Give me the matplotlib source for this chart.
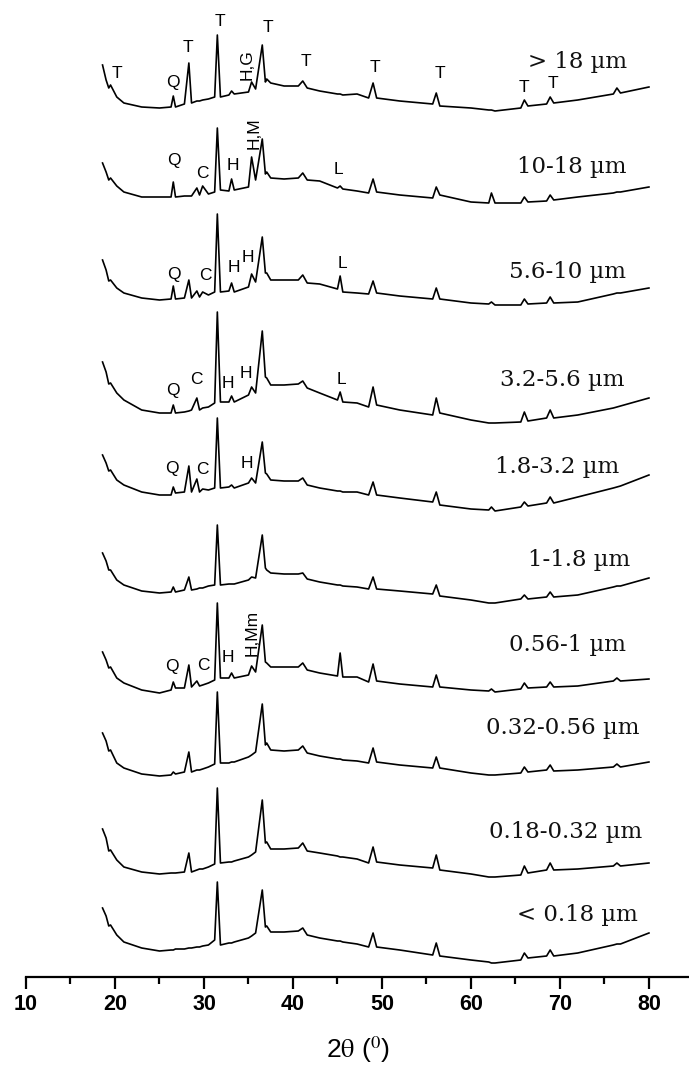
import matplotlib
matplotlib.use("Agg")
import matplotlib.pyplot as plt
from matplotlib.ticker import MultipleLocator

# 2theta sampling points (deg)
two_theta = [18.6, 19.0, 19.3, 19.5, 20.2, 21.0, 23.0, 25.0, 26.3, 26.55,
             26.8, 27.8, 28.3, 28.6, 29.2, 29.5, 29.85, 30.5, 31.2, 31.5,
             31.85, 32.8, 33.1, 33.4, 35.0, 35.35, 35.8, 36.55, 36.9, 37.05,
             37.5, 39.0, 40.6, 41.1, 41.6, 43.0, 45.0, 45.3, 45.6, 47.2,
             48.5, 49.0, 49.4, 52.0, 55.7, 56.1, 56.5, 60.0, 62.0, 62.3,
             62.7, 65.6, 66.0, 66.4, 68.5, 68.9, 69.3, 72.0, 76.0, 76.4,
             76.8, 80.0]

# intensity (a.u.) of each size fraction, relative to its own baseline
i_gt18 = [43, 28, 20, 23, 11, 5, 1, 0, 1, 12, 1, 4, 45, 5, 7, 7, 8, 9, 11, 73,
          11, 13, 17, 14, 16, 26, 19, 63, 26, 29, 25, 22, 22, 27, 20, 17, 14, 14, 13, 14,
          10, 25, 10, 7, 4, 15, 2, 0, -2, -2, -3, 0, 8, 2, 4, 11, 5, 8, 14, 20,
          15, 21]
i_10_18 = [34, 25, 17, 19, 11, 5, 0, 0, 0, 15, 0, 1, 1, 1, 9, 2, 11, 3, 5, 69,
           7, 6, 18, 7, 10, 40, 17, 58, 23, 25, 19, 18, 19, 24, 17, 16, 9, 11, 8, 6,
           4, 18, 5, 2, -1, 10, 2, -5, -6, 4, -6, -6, 0, -5, -4, 2, -3, 0, 4, 5,
           5, 10]
i_56_10 = [40, 30, 19, 20, 12, 7, 2, 0, 1, 14, 1, 2, 20, 2, 9, 3, 8, 5, 8, 86,
           8, 9, 17, 8, 13, 26, 18, 63, 27, 27, 20, 20, 20, 25, 17, 16, 11, 24, 8, 7,
           6, 19, 7, 4, 1, 12, 1, -3, -4, -2, -5, -5, 1, -4, -3, 3, -3, -2, 6, 7,
           7, 12]
i_32_56 = [51, 41, 29, 30, 20, 13, 3, 0, 0, 8, 0, 1, 2, 3, 15, 3, 5, 6, 10, 101,
           11, 11, 17, 11, 18, 26, 20, 82, 36, 35, 28, 28, 29, 32, 25, 20, 13, 21, 11, 10,
           6, 26, 8, 3, -2, 15, 0, -7, -10, -10, -10, -9, 1, -8, -5, 3, -5, -2, 5, 6,
           7, 15]
i_18_32 = [40, 32, 24, 25, 15, 10, 3, 0, 0, 8, 2, 3, 29, 3, 16, 3, 6, 5, 7, 77,
           7, 8, 10, 7, 12, 17, 12, 53, 22, 21, 15, 14, 14, 17, 10, 7, 4, 4, 3, 3,
           0, 13, 0, -3, -7, 3, -10, -14, -15, -12, -16, -12, -7, -11, -8, -2, -8, -2, 7, 8,
           9, 20]
i_1_18 = [40, 32, 23, 23, 13, 8, 2, 0, 1, 6, 1, 3, 16, 3, 4, 5, 5, 7, 8, 68,
          8, 9, 9, 9, 13, 16, 15, 58, 25, 23, 20, 19, 19, 20, 14, 11, 8, 8, 7, 6,
          4, 16, 4, 2, -1, 8, -3, -7, -10, -10, -10, -6, -2, -6, -4, 1, -4, -2, 6, 7,
          7, 15]
i_056_1 = [41, 33, 25, 26, 15, 10, 3, 0, 3, 11, 5, 5, 28, 6, 12, 7, 8, 10, 13, 90,
           15, 15, 20, 15, 18, 27, 21, 68, 31, 30, 26, 26, 26, 30, 23, 20, 17, 40, 16, 16,
           11, 29, 12, 9, 6, 18, 6, 3, 2, 4, 1, 4, 10, 5, 6, 11, 6, 7, 12, 15,
           12, 14]
i_032_056 = [43, 35, 25, 26, 13, 8, 2, 0, 1, 4, 2, 4, 24, 4, 6, 6, 7, 9, 12, 84,
             13, 13, 14, 14, 19, 21, 24, 72, 31, 33, 26, 25, 26, 30, 23, 20, 17, 17, 16, 15,
             13, 28, 14, 11, 8, 19, 8, 3, 1, 1, 1, 3, 9, 4, 6, 11, 5, 6, 9, 12,
             9, 14]
i_018_032 = [45, 36, 23, 24, 14, 7, 2, 0, 1, 1, 1, 2, 21, 2, 4, 5, 5, 7, 10, 86,
             11, 12, 12, 13, 17, 19, 22, 74, 31, 32, 25, 25, 26, 31, 23, 21, 18, 17, 17, 15,
             11, 27, 12, 9, 6, 19, 4, 0, -3, -3, -3, -1, 8, 1, 4, 11, 4, 5, 8, 11,
             8, 11]
i_lt018 = [43, 35, 25, 26, 16, 9, 3, 0, 1, 1, 2, 2, 3, 3, 4, 4, 5, 6, 11, 69,
           6, 8, 8, 9, 13, 15, 18, 61, 24, 25, 19, 19, 20, 23, 16, 13, 10, 10, 9, 7,
           4, 18, 4, 1, -4, 8, -5, -9, -11, -12, -12, -9, -2, -7, -5, 1, -5, -2, 6, 7,
           7, 18]

patterns = [i_gt18, i_10_18, i_56_10, i_32_56, i_18_32,
            i_1_18, i_056_1, i_032_056, i_018_032, i_lt018]
fractions = ["> 18 \u00b5m", "10-18 \u00b5m", "5.6-10 \u00b5m", "3.2-5.6 \u00b5m",
             "1.8-3.2 \u00b5m", "1-1.8 \u00b5m", "0.56-1 \u00b5m", "0.32-0.56 \u00b5m",
             "0.18-0.32 \u00b5m", "< 0.18 \u00b5m"]

# vertical stacking of the patterns
offsets = [869, 780, 677, 564, 482, 384, 284, 201, 103, 26]
name_pos = [(72.0, 46), (71.3, 30), (70.8, 28), (70.3, 33), (69.7, 28),
            (72.1, 33), (70.8, 48), (70.3, 48), (70.6, 42), (72.0, 36)]

# phase labels: (pattern index, 2theta, height above baseline, text, rotation)
phases = [
    (0, 20.2, 35, "T", 0), (0, 26.5, 25, "Q", 0), (0, 28.2, 61, "T", 0),
    (0, 31.8, 86, "T", 0), (0, 34.9, 43, "H,G", 90), (0, 37.2, 81, "T", 0),
    (0, 41.5, 46, "T", 0), (0, 49.2, 41, "T", 0), (0, 56.5, 35, "T", 0),
    (0, 66.0, 21, "T", 0), (0, 69.2, 25, "T", 0),
    (1, 26.6, 37, "Q", 0), (1, 29.8, 24, "C", 0), (1, 33.3, 32, "H", 0),
    (1, 35.6, 64, "H,M", 90), (1, 45.1, 28, "L", 0),
    (2, 26.6, 25, "Q", 0), (2, 30.2, 24, "C", 0), (2, 33.4, 33, "H", 0),
    (2, 34.9, 42, "H", 0), (2, 45.6, 37, "L", 0),
    (3, 26.5, 23, "Q", 0), (3, 29.2, 33, "C", 0), (3, 32.7, 30, "H", 0),
    (3, 34.7, 40, "H", 0), (3, 45.4, 34, "L", 0),
    (4, 26.4, 27, "Q", 0), (4, 29.8, 25, "C", 0), (4, 34.8, 32, "H", 0),
    (6, 26.4, 26, "Q", 0), (6, 29.9, 28, "C", 0), (6, 32.7, 36, "H", 0),
    (6, 35.4, 60, "H,Mm", 90),
]

plt.rcParams['mathtext.fontset'] = 'stix'
fig = plt.figure(figsize=(6.89, 10.68), dpi=100)
ax = fig.add_axes([26 / 689, 91 / 1068, 663 / 689, 977 / 1068])

for k in range(len(patterns)):
    y = [v + offsets[k] for v in patterns[k]]
    ax.plot(two_theta, y, color="black", lw=1.2)
    ax.text(name_pos[k][0], offsets[k] + name_pos[k][1], fractions[k],
            ha="center", va="center", fontsize=16.5, family="DejaVu Serif",
            color="#111111")

for k, tt, h, s, rot in phases:
    ax.text(tt, offsets[k] + h, s, ha="center", va="center", rotation=rot,
            fontsize=12.5, family="Liberation Sans")

ax.set_xlim(10, 84.5)
ax.set_ylim(0, 977)
ax.xaxis.set_major_locator(MultipleLocator(10))
ax.xaxis.set_minor_locator(MultipleLocator(5))
for sp in ["left", "right", "top"]:
    ax.spines[sp].set_visible(False)
ax.spines["bottom"].set_linewidth(1.6)
ax.set_yticks([])
ax.tick_params(axis="x", which="major", length=8.5, width=1.6, pad=4,
               labelsize=15.5)
ax.tick_params(axis="x", which="minor", length=5, width=1.6)
for lab in ax.get_xticklabels():
    lab.set_fontfamily("Liberation Sans")
    lab.set_fontweight("bold")

fig.text(358 / 689, 1 - 1050 / 1068, r"2$\mathrm{\theta}$ ($^{0}$)", ha="center",
         va="center", fontsize=19, family="Liberation Sans")

fig.savefig("out.png", dpi=100)
